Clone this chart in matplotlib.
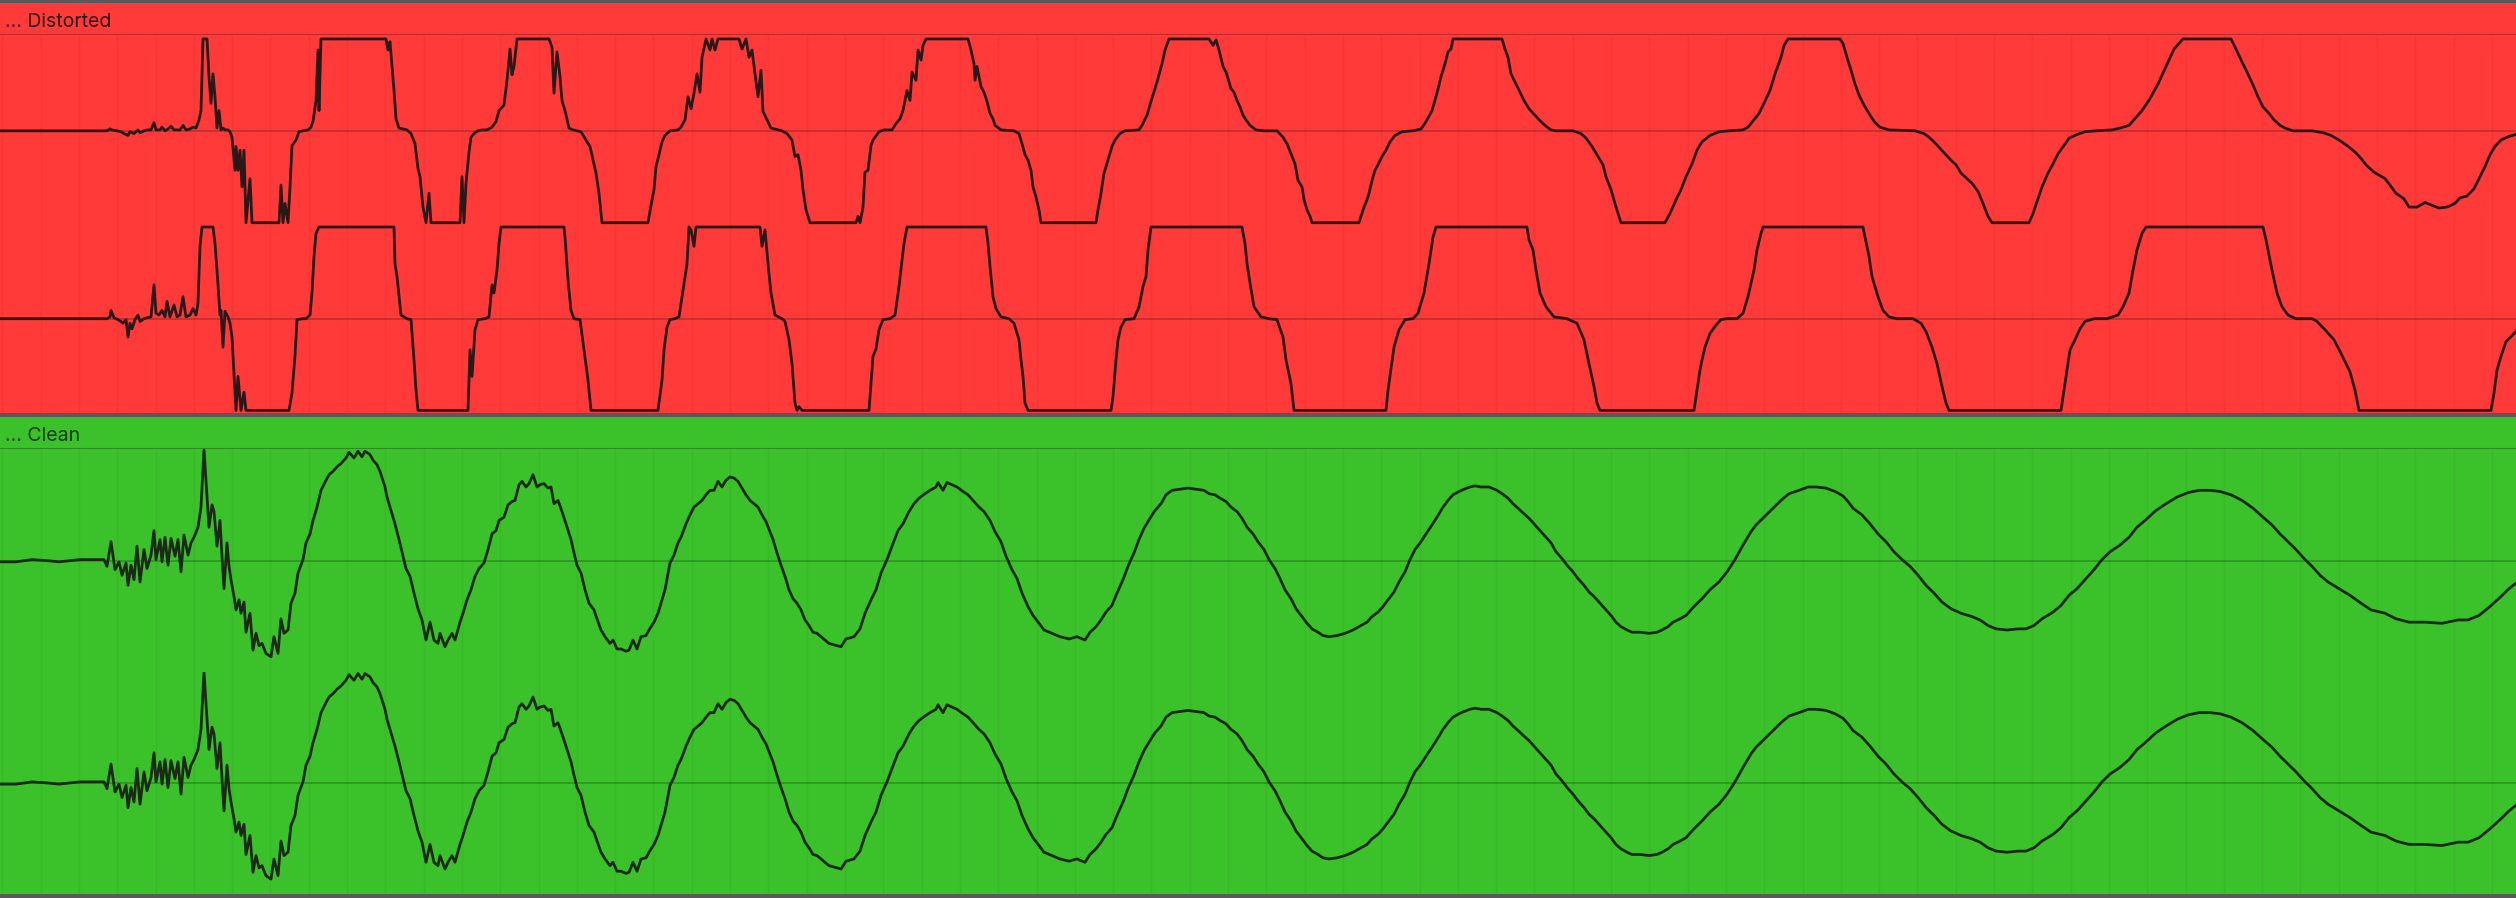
import numpy as np
import matplotlib
matplotlib.use("Agg")
import matplotlib.pyplot as plt

# ---- waveform data (time in clip ticks 0..2516, amplitude normalised) ----
# distorted clip, left channel (clips at +-1)
dist_l_t = [0, 107, 110, 112, 117, 121, 124, 128, 130, 134, 138, 140, 144, 147, 151, 154, 156, 160, 162, 165,
            168, 171, 174, 177, 180, 183, 186, 190, 193, 196, 199, 201, 203, 207, 209, 211, 213, 215, 217, 219,
            221, 223, 225, 228, 230, 232, 235, 236, 238, 240, 242, 244, 246, 250, 252, 279, 281, 283, 285, 288,
            290, 292, 296, 299, 303, 308, 311, 313, 316, 318, 319, 321, 386, 388, 390, 394, 396, 399, 407, 411,
            415, 418, 420, 423, 426, 429, 431, 460, 462, 464, 466, 469, 471, 474, 478, 482, 487, 492, 496, 499,
            504, 507, 510, 512, 514, 517, 549, 552, 554, 557, 560, 562, 565, 569, 573, 581, 587, 590, 594, 596,
            599, 602, 648, 651, 654, 656, 659, 662, 665, 670, 678, 681, 685, 688, 691, 694, 697, 700, 702, 706,
            710, 712, 715, 718, 739, 742, 746, 749, 752, 755, 758, 761, 763, 767, 771, 782, 787, 792, 795, 798,
            801, 803, 806, 810, 856, 858, 860, 863, 865, 868, 871, 873, 879, 884, 892, 896, 900, 903, 907, 910,
            912, 916, 918, 921, 923, 926, 968, 971, 974, 975, 977, 981, 984, 987, 990, 993, 995, 1001, 1014, 1019,
            1022, 1025, 1028, 1031, 1033, 1036, 1039, 1041, 1096, 1098, 1101, 1104, 1106, 1109, 1112, 1115, 1120, 1125,
            1139, 1142, 1147, 1151, 1155, 1158, 1162, 1165, 1169, 1209, 1213, 1216, 1219, 1223, 1226, 1228, 1231, 1234,
            1237, 1240, 1243, 1246, 1250, 1256, 1264, 1277, 1283, 1287, 1291, 1295, 1298, 1302, 1304, 1307, 1310, 1312,
            1359, 1361, 1364, 1367, 1369, 1372, 1375, 1378, 1382, 1386, 1390, 1395, 1402, 1413, 1421, 1426, 1432, 1437,
            1441, 1445, 1448, 1451, 1453, 1502, 1505, 1508, 1511, 1516, 1520, 1524, 1529, 1535, 1540, 1546, 1551, 1556,
            1573, 1581, 1586, 1592, 1597, 1603, 1606, 1611, 1616, 1621, 1665, 1670, 1676, 1681, 1686, 1692, 1697, 1702,
            1710, 1719, 1729, 1743, 1748, 1754, 1759, 1764, 1770, 1775, 1781, 1784, 1788, 1840, 1843, 1847, 1851, 1855,
            1859, 1864, 1870, 1875, 1880, 1889, 1915, 1924, 1929, 1934, 1940, 1945, 1951, 1956, 1961, 1967, 1972, 1978,
            1983, 1988, 1992, 2029, 2033, 2037, 2042, 2048, 2053, 2058, 2064, 2069, 2077, 2085, 2096, 2112, 2120, 2129,
            2134, 2142, 2150, 2158, 2166, 2174, 2183, 2231, 2236, 2242, 2247, 2253, 2258, 2263, 2269, 2274, 2280, 2285,
            2293, 2312, 2323, 2331, 2339, 2347, 2355, 2361, 2366, 2374, 2385, 2390, 2396, 2404, 2409, 2417, 2425, 2432,
            2439, 2447, 2455, 2460, 2467, 2474, 2479, 2485, 2490, 2495, 2501, 2509, 2516]
dist_l_v = [0, 0, 0.02, 0.01, 0.0, -0.01, -0.03, -0.05, -0.01, -0.03, 0.01, -0.02, 0, 0.01, 0.01, 0.09, 0.01, 0.01, 0.04, 0,
            0.02, 0.05, 0.01, 0.01, 0.01, 0.06, 0.01, 0.02, 0.04, 0.03, 0.12, 0.22, 1.0, 1.0, 0.59, 0.30, 0.62, 0.37, 0.03, 0.22,
            0.01, 0.03, 0.01, 0.01, -0.01, -0.07, -0.43, -0.17, -0.43, -0.21, -0.61, -0.21, -1, -0.52, -1, -1, -0.59, -1, -0.79, -1,
            -0.61, -0.16, -0.10, -0.01, 0, 0.01, 0.04, 0.10, 0.33, 0.88, 0.22, 1, 1, 0.88, 0.97, 0.44, 0.13, 0.03, 0.01, -0.03,
            -0.14, -0.41, -0.50, -0.83, -1, -0.68, -1, -1, -0.50, -1, -0.57, -0.23, -0.07, -0.03, 0, 0.01, 0.01, 0.04, 0.10, 0.22,
            0.28, 0.55, 0.89, 0.61, 0.70, 1, 1, 0.91, 0.41, 0.86, 0.59, 0.33, 0.22, 0.03, 0.01, -0.01, -0.12, -0.17, -0.36, -0.46,
            -0.68, -1, -1, -0.81, -0.64, -0.39, -0.26, -0.12, -0.05, 0, 0.01, 0.04, 0.12, 0.37, 0.24, 0.41, 0.62, 0.42, 0.80, 1,
            0.88, 1, 0.88, 1, 1, 0.89, 1, 0.80, 0.88, 0.62, 0.37, 0.66, 0.21, 0.12, 0.03, 0, -0.03, -0.10, -0.28, -0.26,
            -0.43, -0.64, -0.86, -1, -1, -0.93, -1, -0.83, -0.45, -0.43, -0.16, -0.10, -0.01, 0.01, 0.01, 0.08, 0.13, 0.22, 0.44, 0.33,
            0.64, 0.55, 0.88, 0.77, 0.93, 1, 1, 0.88, 0.73, 0.55, 0.70, 0.48, 0.42, 0.32, 0.19, 0.13, 0.06, 0.01, 0, -0.03,
            -0.14, -0.26, -0.32, -0.43, -0.61, -0.72, -0.86, -1, -1, -0.86, -0.68, -0.46, -0.39, -0.28, -0.17, -0.10, -0.03, 0,
            0.01, 0.06, 0.17, 0.32, 0.46, 0.57, 0.73, 0.88, 1, 1, 0.93, 0.99, 0.88, 0.70, 0.64, 0.57, 0.46, 0.42,
            0.33, 0.26, 0.17, 0.12, 0.06, 0.01, 0, 0, -0.07, -0.14, -0.25, -0.36, -0.54, -0.61, -0.75, -0.86, -0.93, -1,
            -1, -0.93, -0.83, -0.75, -0.68, -0.54, -0.43, -0.37, -0.28, -0.21, -0.12, -0.05, -0.01, 0, 0.02, 0.10, 0.22, 0.41,
            0.59, 0.73, 0.86, 0.89, 1, 1, 0.89, 0.80, 0.62, 0.51, 0.42, 0.33, 0.24, 0.17, 0.11, 0.05, 0.01, 0,
            0, -0.03, -0.08, -0.17, -0.26, -0.37, -0.50, -0.64, -0.83, -1, -1, -0.90, -0.75, -0.64, -0.50, -0.36, -0.21, -0.12,
            -0.05, -0.01, 0, 0.01, 0.04, 0.12, 0.19, 0.30, 0.44, 0.62, 0.80, 0.93, 1, 1, 0.95, 0.80, 0.66, 0.51,
            0.39, 0.28, 0.17, 0.09, 0.04, 0.01, 0, -0.03, -0.07, -0.12, -0.19, -0.25, -0.32, -0.37, -0.46, -0.52, -0.57, -0.66,
            -0.79, -0.93, -1, -1, -0.90, -0.77, -0.61, -0.46, -0.36, -0.25, -0.16, -0.08, -0.04, -0.01, 0, 0.01, 0.03, 0.06,
            0.12, 0.22, 0.35, 0.51, 0.70, 0.89, 1, 1, 0.89, 0.75, 0.64, 0.50, 0.37, 0.26, 0.19, 0.12, 0.06, 0.03,
            0, 0, -0.02, -0.05, -0.10, -0.16, -0.23, -0.30, -0.37, -0.45, -0.52, -0.59, -0.68, -0.74, -0.83, -0.83, -0.78, -0.81,
            -0.84, -0.83, -0.79, -0.73, -0.71, -0.63, -0.52, -0.39, -0.26, -0.17, -0.10, -0.06, -0.04]

# distorted clip, right channel
dist_r_t = [0, 107, 110, 111, 114, 118, 121, 123, 126, 128, 130, 132, 135, 138, 140, 144, 147, 151, 154, 156,
            159, 162, 165, 167, 170, 174, 177, 180, 183, 186, 190, 193, 196, 198, 200, 202, 213, 215, 217, 220,
            221, 223, 225, 228, 230, 232, 236, 238, 241, 244, 246, 289, 292, 295, 297, 303, 306, 310, 312, 314,
            316, 319, 394, 395, 397, 401, 407, 411, 414, 416, 418, 468, 470, 472, 475, 478, 485, 489, 492, 494,
            497, 499, 501, 564, 565, 568, 571, 574, 580, 584, 588, 591, 658, 662, 664, 667, 670, 675, 679, 683,
            687, 689, 691, 694, 696, 760, 762, 765, 768, 771, 775, 782, 785, 789, 792, 795, 797, 799, 802, 869,
            871, 873, 876, 879, 883, 890, 895, 899, 902, 904, 907, 986, 988, 990, 993, 996, 1001, 1009, 1014, 1019,
            1021, 1023, 1025, 1028, 1111, 1113, 1116, 1118, 1121, 1125, 1134, 1139, 1143, 1146, 1148, 1151, 1242, 1245, 1247, 1250,
            1254, 1261, 1269, 1277, 1283, 1286, 1291, 1294, 1386, 1388, 1394, 1399, 1405, 1413, 1418, 1424, 1429, 1433, 1436, 1527,
            1529, 1533, 1536, 1540, 1546, 1554, 1567, 1577, 1584, 1589, 1594, 1597, 1600, 1694, 1697, 1700, 1702, 1705, 1710, 1716,
            1721, 1727, 1737, 1743, 1748, 1754, 1757, 1761, 1763, 1863, 1865, 1869, 1872, 1878, 1883, 1889, 1897, 1913, 1921, 1926,
            1932, 1937, 1942, 1946, 1949, 2061, 2064, 2067, 2070, 2075, 2080, 2085, 2094, 2107, 2118, 2123, 2129, 2133, 2137, 2142,
            2146, 2263, 2266, 2272, 2277, 2282, 2288, 2296, 2312, 2317, 2325, 2334, 2342, 2350, 2355, 2359, 2491, 2494, 2497, 2501,
            2506, 2516]
dist_r_v = [0, 0, 0.02, 0.09, 0.01, -0.01, -0.03, -0.05, -0.01, -0.20, -0.05, -0.11, -0.01, 0.04, -0.03, 0, 0.01, 0.02, 0.37, 0.06,
            0.04, 0.09, 0.02, 0.19, 0.02, 0.15, 0.02, 0.04, 0.24, 0.02, 0.04, 0.11, 0.04, 0.17, 0.79, 1, 1, 0.82, 0.53, 0.04,
            0.09, -0.31, 0.08, 0.02, -0.05, -0.20, -1, -0.63, -1, -0.80, -1, -1, -0.81, -0.40, -0.01, 0, 0, 0.04, 0.28, 0.68,
            0.93, 1, 1, 0.60, 0.46, 0.04, 0, -0.01, -0.45, -0.78, -1, -1, -0.34, -0.63, -0.12, -0.01, 0, 0.02, 0.37, 0.28,
            0.53, 0.82, 1, 1, 0.89, 0.42, 0.09, 0, -0.01, -0.34, -0.67, -1, -1, -0.67, -0.34, -0.09, -0.01, 0, 0.02, 0.31,
            0.60, 1, 0.97, 0.79, 1, 1, 0.79, 0.97, 0.60, 0.28, 0.04, 0, -0.03, -0.23, -0.49, -0.92, -1, -0.96, -1, -1,
            -0.71, -0.41, -0.33, -0.12, -0.01, 0, 0.04, 0.35, 0.64, 0.82, 1, 1, 0.82, 0.57, 0.24, 0.11, 0.02, 0, -0.05, -0.23,
            -0.45, -0.63, -0.92, -1, -1, -0.85, -0.45, -0.23, -0.09, -0.01, 0, 0.13, 0.35, 0.46, 0.75, 1, 1, 0.82, 0.60, 0.39,
            0.13, 0.02, 0, -0.01, -0.20, -0.45, -0.71, -1, -1, -0.78, -0.31, -0.12, -0.01, 0, 0.06, 0.28, 0.60, 0.89, 1, 1,
            0.86, 0.75, 0.53, 0.28, 0.13, 0.02, 0, -0.05, -0.23, -0.49, -0.74, -0.92, -1, -1, -0.78, -0.56, -0.45, -0.31, -0.16, -0.07,
            -0.01, 0, 0, 0.06, 0.24, 0.53, 0.75, 0.93, 1, 1, 0.89, 0.68, 0.46, 0.24, 0.09, 0.02, 0, 0, -0.05, -0.14,
            -0.31, -0.49, -0.74, -0.92, -1, -1, -0.78, -0.56, -0.34, -0.23, -0.11, -0.03, 0, 0, 0.04, 0.13, 0.28, 0.53, 0.75, 0.93,
            1, 1, 0.86, 0.53, 0.28, 0.13, 0.04, 0, 0, -0.03, -0.12, -0.23, -0.40, -0.58, -0.78, -1, -1, -0.81, -0.56, -0.41,
            -0.25, -0.14]

# clean clip (both channels look the same)
clean_t = [0, 16, 32, 48, 59, 80, 104, 107, 111, 115, 119, 122, 126, 128, 131, 134, 137, 140, 144, 147,
           151, 154, 156, 160, 162, 165, 168, 171, 175, 178, 181, 184, 188, 191, 194, 198, 201, 204, 206, 209,
           212, 214, 217, 220, 222, 224, 227, 229, 231, 234, 236, 239, 241, 244, 246, 250, 253, 256, 259, 262,
           266, 271, 274, 278, 281, 284, 288, 291, 295, 298, 303, 306, 310, 313, 317, 321, 326, 329, 333, 337,
           341, 346, 349, 354, 358, 362, 365, 370, 373, 377, 380, 385, 387, 391, 395, 399, 403, 406, 410, 414,
           418, 422, 426, 430, 434, 438, 440, 445, 448, 452, 455, 460, 463, 467, 471, 475, 479, 484, 488, 492,
           496, 499, 504, 508, 512, 515, 519, 522, 526, 529, 533, 537, 540, 544, 548, 551, 554, 558, 562, 567,
           571, 574, 577, 581, 585, 589, 594, 597, 601, 605, 610, 613, 617, 621, 626, 629, 633, 637, 641, 646,
           649, 654, 658, 662, 665, 670, 674, 678, 681, 686, 690, 694, 698, 702, 706, 710, 714, 718, 722, 726,
           730, 734, 738, 742, 746, 750, 754, 758, 762, 766, 770, 773, 777, 781, 785, 789, 793, 797, 801, 805,
           809, 813, 817, 821, 825, 829, 833, 841, 846, 854, 860, 865, 871, 876, 881, 887, 892, 898, 903, 909,
           914, 919, 925, 930, 936, 938, 943, 947, 952, 957, 963, 968, 974, 979, 984, 990, 995, 1001, 1006, 1012,
           1017, 1022, 1028, 1033, 1039, 1044, 1052, 1060, 1069, 1077, 1085, 1090, 1096, 1101, 1106, 1112, 1117, 1123, 1128, 1134,
           1139, 1144, 1150, 1155, 1161, 1166, 1172, 1180, 1188, 1196, 1204, 1209, 1215, 1220, 1226, 1231, 1237, 1242, 1247, 1253,
           1258, 1264, 1269, 1275, 1280, 1285, 1291, 1296, 1302, 1307, 1312, 1318, 1323, 1329, 1337, 1345, 1353, 1359, 1367, 1372,
           1378, 1383, 1388, 1394, 1399, 1405, 1410, 1415, 1421, 1426, 1432, 1437, 1443, 1448, 1453, 1459, 1464, 1470, 1475, 1481,
           1489, 1497, 1502, 1508, 1513, 1518, 1524, 1529, 1535, 1540, 1546, 1551, 1556, 1562, 1567, 1573, 1578, 1584, 1589, 1594,
           1600, 1605, 1611, 1616, 1621, 1627, 1632, 1640, 1649, 1657, 1662, 1668, 1673, 1680, 1686, 1694, 1702, 1710, 1719, 1727,
           1735, 1743, 1751, 1756, 1764, 1773, 1781, 1789, 1799, 1808, 1816, 1826, 1835, 1843, 1848, 1853, 1862, 1870, 1878, 1886,
           1894, 1902, 1910, 1918, 1926, 1934, 1942, 1951, 1961, 1972, 1980, 1988, 1996, 2007, 2018, 2026, 2034, 2042, 2053, 2061,
           2069, 2077, 2085, 2094, 2102, 2110, 2120, 2129, 2137, 2145, 2156, 2166, 2177, 2188, 2199, 2210, 2220, 2231, 2242, 2253,
           2263, 2272, 2280, 2288, 2296, 2304, 2312, 2320, 2328, 2339, 2350, 2361, 2371, 2385, 2396, 2409, 2425, 2442, 2458, 2468,
           2479, 2490, 2501, 2509, 2516]
clean_v = [-0.01, -0.01, 0.01, 0.0, -0.01, 0.01, 0.01, -0.05, 0.17, -0.08, -0.01, -0.13, -0.02, -0.22, -0.04, -0.17, 0.13, -0.19, 0.10, -0.07,
           0.05, 0.27, 0.01, 0.19, -0.01, 0.21, -0.04, 0.20, 0.04, 0.19, -0.10, 0.23, 0.05, 0.16, 0.21, 0.30, 0.48, 0.99, 0.72, 0.30,
           0.50, 0.44, 0.13, 0.36, 0.04, -0.25, 0.16, -0.05, -0.17, -0.32, -0.44, -0.35, -0.47, -0.37, -0.64, -0.47, -0.80, -0.65, -0.76, -0.74,
           -0.83, -0.86, -0.68, -0.83, -0.52, -0.65, -0.62, -0.38, -0.29, -0.11, 0.01, 0.16, 0.24, 0.36, 0.48, 0.63, 0.72, 0.77, 0.80, 0.84,
           0.87, 0.92, 0.97, 0.92, 0.98, 0.93, 0.98, 0.95, 0.90, 0.86, 0.80, 0.66, 0.57, 0.45, 0.33, 0.19, 0.04, -0.07, -0.14, -0.29,
           -0.43, -0.53, -0.71, -0.55, -0.71, -0.74, -0.65, -0.77, -0.71, -0.65, -0.71, -0.55, -0.47, -0.35, -0.26, -0.14, -0.07, -0.02, 0.10, 0.24,
           0.27, 0.36, 0.39, 0.50, 0.53, 0.54, 0.68, 0.71, 0.66, 0.69, 0.77, 0.66, 0.68, 0.69, 0.65, 0.66, 0.51, 0.54, 0.44, 0.30,
           0.19, 0.07, -0.04, -0.11, -0.26, -0.38, -0.44, -0.52, -0.62, -0.68, -0.74, -0.71, -0.79, -0.79, -0.81, -0.80, -0.71, -0.79, -0.68, -0.67,
           -0.62, -0.55, -0.47, -0.35, -0.26, -0.02, 0.05, 0.16, 0.21, 0.33, 0.41, 0.48, 0.51, 0.54, 0.59, 0.63, 0.63, 0.71, 0.66, 0.72,
           0.75, 0.74, 0.71, 0.65, 0.59, 0.54, 0.51, 0.48, 0.41, 0.35, 0.26, 0.19, 0.07, -0.04, -0.14, -0.26, -0.34, -0.38, -0.44, -0.53,
           -0.58, -0.64, -0.65, -0.68, -0.71, -0.74, -0.75, -0.77, -0.70, -0.68, -0.61, -0.47, -0.35, -0.26, -0.11, 0.01, 0.13, 0.27, 0.33, 0.44,
           0.51, 0.56, 0.60, 0.63, 0.66, 0.70, 0.63, 0.70, 0.68, 0.66, 0.62, 0.59, 0.53, 0.48, 0.44, 0.36, 0.26, 0.17, 0.04, -0.08,
           -0.16, -0.29, -0.41, -0.49, -0.56, -0.62, -0.65, -0.68, -0.70, -0.68, -0.71, -0.64, -0.59, -0.53, -0.46, -0.40, -0.29, -0.17, -0.05, 0.07,
           0.19, 0.29, 0.38, 0.45, 0.51, 0.59, 0.63, 0.64, 0.65, 0.64, 0.63, 0.60, 0.59, 0.56, 0.53, 0.48, 0.44, 0.38, 0.30, 0.24,
           0.17, 0.10, 0.01, -0.07, -0.16, -0.26, -0.34, -0.43, -0.50, -0.56, -0.61, -0.64, -0.67, -0.68, -0.67, -0.65, -0.62, -0.59, -0.55, -0.50,
           -0.46, -0.41, -0.35, -0.28, -0.19, -0.10, 0.01, 0.10, 0.17, 0.24, 0.32, 0.39, 0.48, 0.54, 0.59, 0.62, 0.64, 0.66, 0.67, 0.66,
           0.66, 0.63, 0.60, 0.56, 0.51, 0.47, 0.42, 0.38, 0.32, 0.27, 0.21, 0.16, 0.08, 0.02, -0.04, -0.10, -0.16, -0.22, -0.28, -0.32,
           -0.38, -0.43, -0.49, -0.55, -0.59, -0.62, -0.64, -0.64, -0.65, -0.64, -0.62, -0.59, -0.55, -0.52, -0.49, -0.41, -0.34, -0.26, -0.19, -0.10,
           0.01, 0.14, 0.26, 0.32, 0.39, 0.47, 0.54, 0.60, 0.63, 0.66, 0.66, 0.65, 0.62, 0.58, 0.53, 0.47, 0.41, 0.33, 0.24, 0.17,
           0.08, 0.01, -0.05, -0.13, -0.22, -0.29, -0.37, -0.43, -0.47, -0.50, -0.53, -0.58, -0.61, -0.62, -0.61, -0.61, -0.58, -0.52, -0.46, -0.40,
           -0.31, -0.25, -0.17, -0.08, 0.01, 0.08, 0.14, 0.21, 0.30, 0.36, 0.45, 0.51, 0.57, 0.61, 0.63, 0.63, 0.62, 0.59, 0.54, 0.47,
           0.39, 0.32, 0.24, 0.17, 0.10, 0.02, -0.05, -0.13, -0.19, -0.25, -0.31, -0.38, -0.44, -0.47, -0.52, -0.55, -0.55, -0.56, -0.53, -0.53,
           -0.49, -0.41, -0.32, -0.25, -0.20]

clip_names = ["... Distorted", "... Clean"]

# ---- look ----
W, H = 2516, 898
RED, GREEN = "#ff3a38", "#3bc12a"
GRAY = "#595959"

fig = plt.figure(figsize=(W / 100, H / 100), dpi=100)
fig.patch.set_facecolor(GRAY)


def lane(top, bottom):
    # axes spanning pixel rows top..bottom
    return fig.add_axes([0, 1 - bottom / H, 1, (bottom - top) / H])


def clean_axes(ax, bg):
    ax.set_facecolor(bg)
    for s in ax.spines.values():
        s.set_visible(False)
    ax.tick_params(left=False, bottom=False, labelleft=False, labelbottom=False)
    ax.set_xlim(0, W)


def header(top, bottom, bg, line_col, txt_col, name):
    ax = lane(top, bottom)
    clean_axes(ax, bg)
    ax.set_ylim(0, 1)
    ax.axhline(0, color=line_col, lw=2.2)
    ax.text(5, 0.26, name, fontsize=14, family=["Inter", "DejaVu Sans"],
            color=txt_col, va="baseline", ha="left")
    return ax


def wave(top, bottom, ylim, bg, zero_col, t, v, wcol, lw):
    ax = lane(top, bottom)
    clean_axes(ax, bg)
    ax.set_ylim(*ylim)
    ax.set_xticks(np.arange(2.4, W, 38.3))
    ax.grid(axis="x", color="black", alpha=0.035, lw=1)
    ax.axhline(0, color=zero_col, lw=1.4, zorder=1)
    ax.plot(t, v, color=wcol, lw=lw, zorder=3, solid_joinstyle="round")
    return ax


# distorted clip
header(2.5, 35, RED, "#c22a2a", "#2b1414", clip_names[0])
wave(35, 225, (-1.025, 1.043), RED, "#c83030", dist_l_t, dist_l_v, "#2a1818", 2.0)
wave(225, 412.5, (-1.023, 1.022), RED, "#c83030", dist_r_t, dist_r_v, "#2a1818", 2.0)

# clean clip
header(417.5, 449, GREEN, "#2c8a20", "#133a0e", clip_names[1])
wave(449, 672, (-0.996, 1.0), GREEN, "#2f9a22", clean_t, clean_v, "#1b2a17", 2.0)
wave(672, 894, (-0.994, 0.994), GREEN, "#2f9a22", clean_t, clean_v, "#1b2a17", 2.0)

fig.savefig("out.png", dpi=100, facecolor=fig.get_facecolor())
